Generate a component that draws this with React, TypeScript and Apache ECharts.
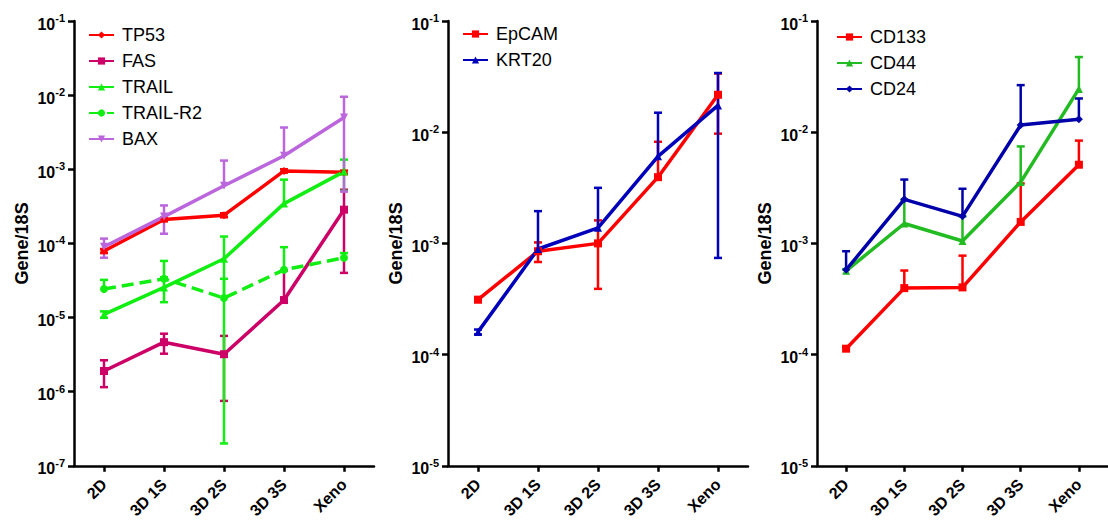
import React, { useEffect, useRef } from 'react';
import * as echarts from 'echarts';

const categories = ['2D', '3D 1S', '3D 2S', '3D 3S', 'Xeno'];
const yAxisName = 'Gene/18S';

// Panel 1 (apoptosis)
const tp53Mean = [7.9e-5, 2.1e-4, 2.4e-4, 9.5e-4, 9.1e-4];
const tp53Sd = [0.5e-5, 1.2e-5, 1.5e-5, 5e-5, 5e-5];
const fasMean = [1.9e-6, 4.65e-6, 3.2e-6, 1.72e-5, 2.85e-4];
const fasSd = [0.75e-6, 1.4e-6, 2.45e-6, 2.6e-5, 2.45e-4];
const trailMean = [1.1e-5, 2.55e-5, 6.2e-5, 3.44e-4, 9.3e-4];
const trailSd = [1.1e-6, 0.94e-5, 6.18e-5, 3.8e-4, 4.2e-4];
const trailR2Mean = [2.42e-5, 3.33e-5, 1.83e-5, 4.4e-5, 6.4e-5];
const trailR2Sd = [0.8e-5, 2.47e-5, 1.5e-5, 4.5e-5, 1.0e-5];
const baxMean = [9.0e-5, 2.3e-4, 6.0e-4, 1.52e-3, 5.0e-3];
const baxSd = [2.6e-5, 0.95e-4, 7.1e-4, 2.14e-3, 4.5e-3];

// Panel 2 (differentiation)
const epcamMean = [3.12e-4, 8.5e-4, 1.0e-3, 3.94e-3, 2.17e-2];
const epcamSd = [1.5e-5, 1.7e-4, 6.1e-4, 4.26e-3, 1.2e-2];
const krt20Mean = [1.6e-4, 8.9e-4, 1.38e-3, 6.07e-3, 1.74e-2];
const krt20Sd = [0.8e-5, 1.06e-3, 1.78e-3, 8.9e-3, 1.666e-2];

// Panel 3 (stem cell markers)
const cd133Mean = [1.13e-4, 3.96e-4, 4.02e-4, 1.56e-3, 5.1e-3];
const cd133Sd = [0.3e-5, 1.74e-4, 3.74e-4, 1.9e-3, 3.3e-3];
const cd44Mean = [5.66e-4, 1.51e-3, 1.05e-3, 3.56e-3, 2.45e-2];
const cd44Sd = [0.2e-4, 0.95e-3, 0.7e-3, 3.89e-3, 2.29e-2];
const cd24Mean = [5.78e-4, 2.49e-3, 1.75e-3, 1.16e-2, 1.31e-2];
const cd24Sd = [2.72e-4, 1.26e-3, 1.35e-3, 1.49e-2, 7.0e-3];

const panel1Range = [1e-7, 1e-1];
const panel23Range = [1e-5, 1e-1];

const FONT = 'Liberation Sans, Arial, sans-serif';

type S = {
  name: string;
  mean: number[];
  sd: number[];
  color: string;
  symbol: string;
  rotate?: number;
  dashed?: boolean;
  upOnly?: boolean;
};

const panels: { grid: number; series: S[]; range: number[]; legendLeft: number; legendTop: number }[] = [
  {
    grid: 0,
    range: panel1Range,
    legendLeft: 83,
    legendTop: 21,
    series: [
      { name: 'TP53', mean: tp53Mean, sd: tp53Sd, color: '#FF0000', symbol: 'diamond' },
      { name: 'FAS', mean: fasMean, sd: fasSd, color: '#CC0066', symbol: 'rect' },
      { name: 'TRAIL', mean: trailMean, sd: trailSd, color: '#11EE11', symbol: 'triangle' },
      { name: 'TRAIL-R2', mean: trailR2Mean, sd: trailR2Sd, color: '#11EE11', symbol: 'circle', dashed: true, upOnly: true },
      { name: 'BAX', mean: baxMean, sd: baxSd, color: '#BB66DD', symbol: 'triangle', rotate: 180 },
    ],
  },
  {
    grid: 1,
    range: panel23Range,
    legendLeft: 457,
    legendTop: 20,
    series: [
      { name: 'EpCAM', mean: epcamMean, sd: epcamSd, color: '#FF0000', symbol: 'rect' },
      { name: 'KRT20', mean: krt20Mean, sd: krt20Sd, color: '#0000BB', symbol: 'triangle' },
    ],
  },
  {
    grid: 2,
    range: panel23Range,
    legendLeft: 831,
    legendTop: 23,
    series: [
      { name: 'CD133', mean: cd133Mean, sd: cd133Sd, color: '#FF0000', symbol: 'rect', upOnly: true },
      { name: 'CD44', mean: cd44Mean, sd: cd44Sd, color: '#22BB22', symbol: 'triangle', upOnly: true },
      { name: 'CD24', mean: cd24Mean, sd: cd24Sd, color: '#0000AA', symbol: 'diamond', upOnly: true },
    ],
  },
];

const gridLefts = [74, 448, 817];

function buildOption() {
  const grid = gridLefts.map((l) => ({ left: l, top: 21, width: 300, height: 448 }));
  const xAxis = gridLefts.map((_, i) => ({
    type: 'category',
    gridIndex: i,
    data: categories,
    boundaryGap: true,
    axisLine: { show: true, lineStyle: { color: '#000', width: 2.5 } },
    axisTick: { show: true, alignWithLabel: true, length: 6, lineStyle: { color: '#000', width: 2.5 } },
    axisLabel: {
      interval: 0,
      rotate: 45,
      margin: 16,
      color: '#000',
      fontWeight: 'bold',
      fontSize: 16,
      fontFamily: FONT,
    },
    splitLine: { show: false },
  }));
  const yAxis = panels.map((p) => ({
    type: 'log',
    logBase: 10,
    gridIndex: p.grid,
    min: p.range[0],
    max: p.range[1],
    splitNumber: Math.round(Math.log10(p.range[1] / p.range[0])),
    axisLine: { show: true, lineStyle: { color: '#000', width: 2.5 } },
    axisTick: { show: true, length: 6, lineStyle: { color: '#000', width: 2.5 } },
    minorTick: { show: false },
    splitLine: { show: false },
    axisLabel: {
      margin: 9,
      fontSize: 16,
      fontWeight: 'bold',
      color: '#000',
      fontFamily: FONT,
      formatter: (v: number) => `{b|10}{s|${Math.round(Math.log10(v))}}`,
      rich: {
        b: { fontSize: 16, fontWeight: 'bold', color: '#000', fontFamily: FONT, padding: [6, 0, 0, 0] },
        s: { fontSize: 11, fontWeight: 'bold', color: '#000', fontFamily: FONT, padding: [0, 0, 6, 0] },
      },
    },
    name: yAxisName,
    nameLocation: 'middle',
    nameGap: 43,
    nameTextStyle: { fontSize: 18, fontWeight: 'bold', color: '#000', fontFamily: FONT },
  }));

  const series: any[] = [];
  const legend: any[] = [];
  panels.forEach((p) => {
    legend.push({
      data: p.series.map((s) => s.name),
      orient: 'vertical',
      left: p.legendLeft,
      top: p.legendTop,
      itemWidth: 25,
      itemHeight: 9,
      itemGap: 8,
      selectedMode: false,
      textStyle: { fontSize: 18, color: '#000', fontFamily: FONT, padding: [0, 0, 0, 3] },
    });
    p.series.forEach((s) => {
      const lows: number[] = [];
      const showLow: boolean[] = [];
      const highs: number[] = [];
      s.mean.forEach((m, i) => {
        const lo = m - s.sd[i];
        const ok = !s.upOnly && lo > 0;
        lows.push(ok ? lo : m);
        showLow.push(ok);
        highs.push(m + s.sd[i]);
      });
      series.push({
        type: 'custom',
        name: s.name + ' error',
        xAxisIndex: p.grid,
        yAxisIndex: p.grid,
        encode: { x: 0, y: [1, 2] },
        data: s.mean.map((_, i) => [i, lows[i], highs[i]]),
        renderItem: (params: any, api: any) => {
          const idx = api.value(0);
          const pHi = api.coord([idx, api.value(2)]);
          const pLo = api.coord([idx, api.value(1)]);
          const cw = 4;
          const st = { stroke: s.color, lineWidth: 2.5 };
          const children: any[] = [
            { type: 'line', shape: { x1: pHi[0], y1: pHi[1], x2: pLo[0], y2: pLo[1] }, style: st },
            { type: 'line', shape: { x1: pHi[0] - cw, y1: pHi[1], x2: pHi[0] + cw, y2: pHi[1] }, style: st },
          ];
          if (showLow[params.dataIndex]) {
            children.push({ type: 'line', shape: { x1: pLo[0] - cw, y1: pLo[1], x2: pLo[0] + cw, y2: pLo[1] }, style: st });
          }
          return { type: 'group', children };
        },
        z: 2,
      });
      series.push({
        type: 'line',
        name: s.name,
        xAxisIndex: p.grid,
        yAxisIndex: p.grid,
        data: s.mean,
        symbol: s.symbol,
        symbolRotate: s.rotate || 0,
        symbolSize: 8,
        color: s.color,
        itemStyle: { color: s.color },
        lineStyle: { color: s.color, width: 3.5, type: s.dashed ? [12, 6] : 'solid' },
        z: 3,
      });
    });
  });

  return {
    animation: false,
    backgroundColor: '#fff',
    grid,
    xAxis,
    yAxis,
    legend,
    series,
  };
}

export default function App() {
  const ref = useRef<HTMLDivElement>(null);
  useEffect(() => {
    if (!ref.current) return;
    const chart = echarts.init(ref.current, undefined, { renderer: 'svg' });
    chart.setOption(buildOption() as any);
    return () => chart.dispose();
  }, []);
  return (
    <div
      ref={ref}
      style={{ position: 'fixed', left: 0, top: 0, width: 1108, height: 521, background: '#fff' }}
    />
  );
}
